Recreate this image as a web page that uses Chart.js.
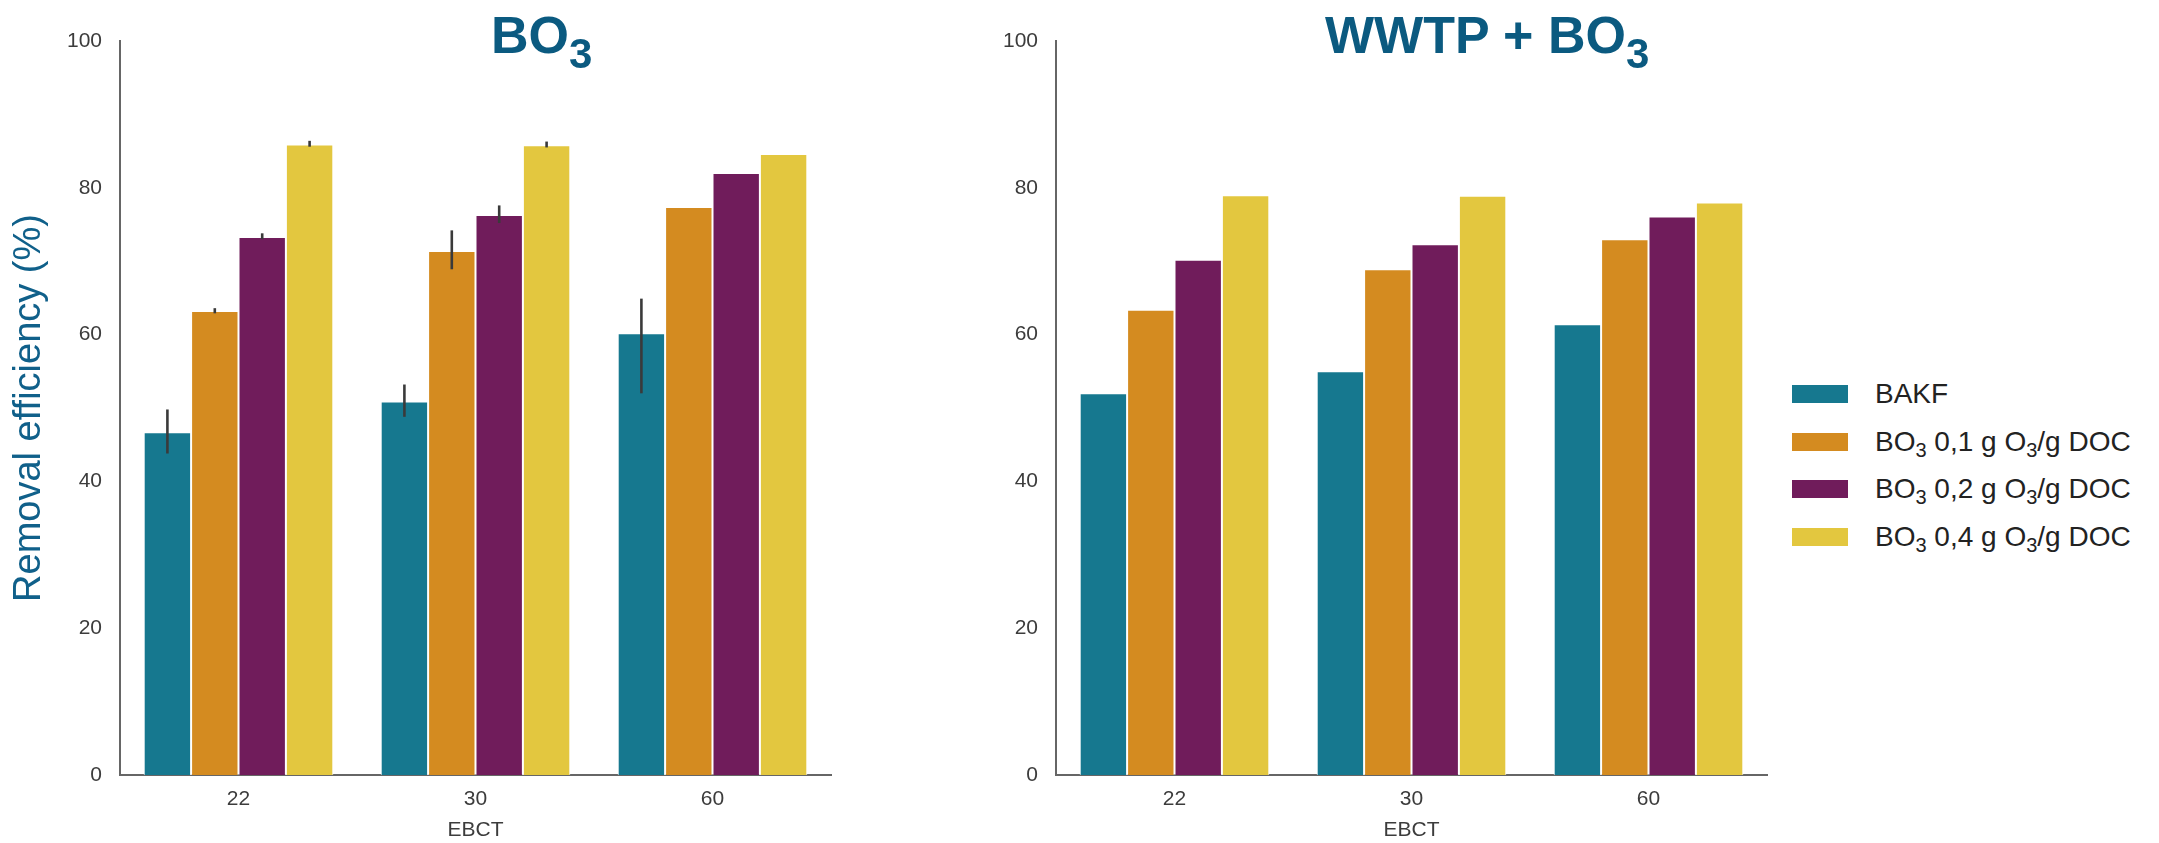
<!DOCTYPE html>
<html>
<head>
<meta charset="utf-8">
<script src="https://cdn.jsdelivr.net/npm/chart.js@4/dist/chart.umd.min.js"></script>
<style>
  html, body { margin: 0; padding: 0; background: #fff; }
  body { width: 2159px; height: 843px; position: relative; overflow: hidden; font-family: "Liberation Sans", Arial, sans-serif; }
  canvas { position: absolute; top: 0; }
  .title { position: absolute; top: 9px; font-size: 52px; line-height: 52px; font-weight: bold; color: #0b5a80; white-space: nowrap; }
  .title sub { font-size: 42px; vertical-align: baseline; position: relative; top: 15px; }
  .legend-row { position: absolute; left: 1792px; height: 30px; display: flex; align-items: center; font-size: 28px; color: #222; white-space: nowrap; }
  .legend-row .swatch { width: 56px; height: 18px; margin-right: 27px; }
  .legend-row sub { font-size: 20px; vertical-align: baseline; position: relative; top: 6px; }
</style>
</head>
<body>
<canvas id="left"></canvas>
<canvas id="right"></canvas>
<div class="title" style="left:491px">BO<sub>3</sub></div>
<div class="title" style="left:1325px">WWTP + BO<sub>3</sub></div>
<div id="legend"></div>

<script>
// EBCT categories
const categories = ["22", "30", "60"];
const seriesNames = ["BAKF", "BO₃ 0,1 g O₃/g DOC", "BO₃ 0,2 g O₃/g DOC", "BO₃ 0,4 g O₃/g DOC"];
const seriesColors = ["#16788f", "#d48b20", "#701c5b", "#e3c73f"];
const yTicks = [0, 20, 40, 60, 80, 100];

// left panel: BO3
const bo3Bakf = [46.7, 50.9, 60.2];
const bo3Dose01 = [63.2, 71.4, 77.4];
const bo3Dose02 = [73.3, 76.3, 82.0];
const bo3Dose04 = [85.9, 85.8, 84.6];
// error bar ends (left panel only)
const bo3BakfLow = [43.8, 48.8, 52.0];
const bo3BakfHigh = [49.8, 53.2, 64.9];
const bo3Dose01Low = [62.9, 68.9, 77.4];
const bo3Dose01High = [63.6, 74.2, 77.4];
const bo3Dose02Low = [73.0, 75.2, 82.0];
const bo3Dose02High = [73.8, 77.6, 82.0];
const bo3Dose04Low = [85.6, 85.5, 84.6];
const bo3Dose04High = [86.4, 86.3, 84.6];

// right panel: WWTP + BO3
const wwtpBakf = [52.0, 55.0, 61.4];
const wwtpDose01 = [63.4, 68.9, 73.0];
const wwtpDose02 = [70.2, 72.3, 76.1];
const wwtpDose04 = [79.0, 78.9, 78.0];

const tickFont = { family: "'Liberation Sans', Arial, sans-serif", size: 21 };

const errorBars = {
  id: "errorBars",
  afterDatasetsDraw(chart) {
    const ctx = chart.ctx;
    const yScale = chart.scales.y;
    ctx.save();
    ctx.strokeStyle = "#3a3a3a";
    ctx.lineWidth = 2.6;
    chart.data.datasets.forEach((ds, i) => {
      if (!ds.errLow) return;
      const meta = chart.getDatasetMeta(i);
      meta.data.forEach((bar, j) => {
        if (ds.errHigh[j] - ds.errLow[j] <= 0) return;
        ctx.beginPath();
        ctx.moveTo(bar.x, yScale.getPixelForValue(ds.errLow[j]));
        ctx.lineTo(bar.x, yScale.getPixelForValue(ds.errHigh[j]));
        ctx.stroke();
      });
    });
    ctx.restore();
  }
};

function makeDatasets(values, lows, highs) {
  return values.map((v, i) => ({
    label: seriesNames[i],
    data: v,
    backgroundColor: seriesColors[i],
    borderColor: "#ffffff",
    borderWidth: 1,
    categoryPercentage: 0.8,
    barPercentage: 1.0,
    errLow: lows ? lows[i] : null,
    errHigh: highs ? highs[i] : null
  }));
}

function makeChart(id, left, datasets, yTitle) {
  const canvas = document.getElementById(id);
  canvas.style.left = left + "px";
  canvas.width = 840;
  canvas.height = 843;
  return new Chart(canvas.getContext("2d"), {
    type: "bar",
    data: { labels: categories, datasets: datasets },
    options: {
      responsive: false,
      animation: false,
      layout: { padding: { top: 41, right: 9, left: 0, bottom: 0 } },
      plugins: { legend: { display: false }, tooltip: { enabled: false } },
      scales: {
        x: {
          grid: { display: false, drawTicks: false },
          border: { display: true, color: "#666", width: 2 },
          ticks: { color: "#3c3c3c", font: tickFont, padding: 12 },
          title: { display: true, text: "EBCT", color: "#3c3c3c", font: tickFont, padding: { top: 0, bottom: 0 } },
          afterFit: s => { s.height = 68; }
        },
        y: {
          min: 0,
          max: 100,
          afterBuildTicks: s => { s.ticks = yTicks.map(v => ({ value: v })); },
          grid: { display: false, drawTicks: false },
          border: { display: true, color: "#666", width: 2 },
          ticks: { color: "#3c3c3c", font: tickFont, padding: 18 },
          title: {
            display: !!yTitle,
            text: yTitle || "",
            color: "#10608a",
            font: { family: "'Liberation Sans', Arial, sans-serif", size: 38 },
            padding: { top: 7, bottom: 0 }
          },
          afterFit: s => { s.width = 120; }
        }
      }
    },
    plugins: [errorBars]
  });
}

makeChart("left", 0,
  makeDatasets([bo3Bakf, bo3Dose01, bo3Dose02, bo3Dose04],
    [bo3BakfLow, bo3Dose01Low, bo3Dose02Low, bo3Dose04Low],
    [bo3BakfHigh, bo3Dose01High, bo3Dose02High, bo3Dose04High]),
  "Removal efficiency (%)");

makeChart("right", 936,
  makeDatasets([wwtpBakf, wwtpDose01, wwtpDose02, wwtpDose04]),
  null);

// legend built from series arrays
const legend = document.getElementById("legend");
seriesNames.forEach((name, i) => {
  const row = document.createElement("div");
  row.className = "legend-row";
  row.style.top = (394 + i * 47.5 - 15) + "px";
  const sw = document.createElement("div");
  sw.className = "swatch";
  sw.style.background = seriesColors[i];
  const txt = document.createElement("span");
  txt.innerHTML = name.replace(/₃/g, "<sub>3</sub>");
  row.appendChild(sw);
  row.appendChild(txt);
  legend.appendChild(row);
});
</script>
</body>
</html>
